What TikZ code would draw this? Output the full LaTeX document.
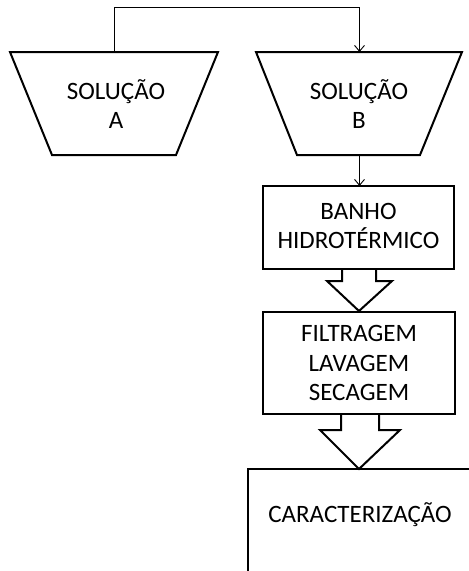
\documentclass[tikz,border=0pt]{standalone}
\usepackage{fontspec}
\setmainfont{Carlito}
\usetikzlibrary{arrows.meta}
\begin{document}
\begin{tikzpicture}[x=1pt,y=-1pt,
  shapeline/.style={draw=black,line width=2pt,line join=miter},
  thin/.style={draw=black,line width=0.9pt},
  conn/.style={thin,-{Straight Barb[length=6pt,width=10pt]}},
  lbl/.style={align=center,font=\fontsize{25}{29.5}\selectfont,inner sep=0pt}]
\useasboundingbox (0,0) rectangle (469,571);
\clip (0,0) rectangle (469,571);
% trapezoid A
\draw[shapeline] (10,52) -- (218,52) -- (176,155) -- (52,155) -- cycle;
\coordinate (atop) at (114,52);
\node[lbl] (a) at (116,104) {SOLUÇÃO\\A};
% trapezoid B
\draw[shapeline] (256,52) -- (462,52) -- (420,155) -- (297,155) -- cycle;
\coordinate (btop) at (359.5,52);
\coordinate (bbot) at (359.5,155);
\node[lbl] (b) at (359,104) {SOLUÇÃO\\B};
% connector A -> B
\coordinate (c1) at (114,7);
\coordinate (c2) at (359.5,7);
\draw[conn] (atop) -- (c1) -- (c2) -- (btop);
% box banho
\draw[shapeline] (263,186) rectangle (454,269);
\coordinate (banhotop) at (359.5,186);
\node[lbl] (banho) at (358.5,226) {BANHO\\HIDROTÉRMICO};
\draw[conn] (bbot) -- (banhotop);
% block arrow 1
\draw[shapeline] (342,269) -- (342,281) -- (327,281) -- (359,311) -- (392,281) -- (376,281) -- (376,269);
% box filtragem
\draw[shapeline] (263,312) rectangle (455,414);
\node[lbl] (filt) at (359,363) {FILTRAGEM\\LAVAGEM\\SECAGEM};
% block arrow 2
\draw[shapeline] (341,414) -- (341,430) -- (320,430) -- (359,469) -- (400,430) -- (379,430) -- (379,414);
% box caracterizacao
\draw[shapeline] (248,469) rectangle (490,600);
\node[lbl] (car) at (360,515) {CARACTERIZAÇÃO};
\end{tikzpicture}
\end{document}
